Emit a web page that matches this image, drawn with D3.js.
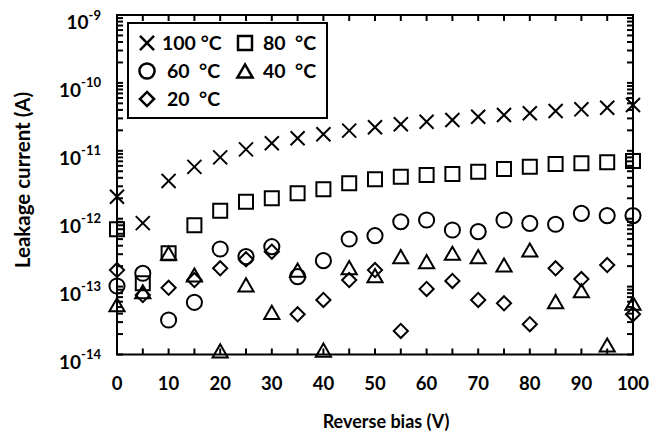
<!DOCTYPE html>
<html><head><meta charset="utf-8">
<script src="https://cdn.jsdelivr.net/npm/d3@7"></script>
<style>
body{margin:0;background:#fff}
text{font-family:Lato,"Open Sans",sans-serif;font-weight:bold;fill:#000}
</style>
</head><body>
<svg id="chart" width="654" height="437"></svg>
<script>
// ---------- data ----------
const bias = [0,5,10,15,20,25,30,35,40,45,50,55,60,65,70,75,80,85,90,95,100];
const t100 = [2.1e-12,8.6e-13,3.6e-12,5.8e-12,8.0e-12,1.05e-11,1.29e-11,1.53e-11,1.75e-11,1.98e-11,2.22e-11,2.46e-11,2.68e-11,2.84e-11,3.18e-11,3.37e-11,3.57e-11,3.86e-11,4.08e-11,4.31e-11,4.73e-11];
const t80  = [7.0e-13,1.12e-13,3.1e-13,8.0e-13,1.31e-12,1.78e-12,2.0e-12,2.37e-12,2.71e-12,3.32e-12,3.8e-12,4.16e-12,4.4e-12,4.55e-12,4.92e-12,5.4e-12,5.83e-12,6.39e-12,6.55e-12,6.77e-12,7.08e-12];
const t60  = [1.02e-13,1.57e-13,3.22e-14,5.87e-14,3.58e-13,2.76e-13,3.87e-13,1.4e-13,2.41e-13,5.02e-13,5.62e-13,9.03e-13,9.57e-13,6.82e-13,6.44e-13,9.57e-13,8.55e-13,8.27e-13,1.2e-12,1.11e-12,1.11e-12];
const t40  = [5.4e-14,8.4e-14,3.1e-13,1.48e-13,1.13e-14,1.06e-13,4.18e-14,1.75e-13,1.16e-14,1.9e-13,1.45e-13,2.76e-13,2.33e-13,3.1e-13,2.76e-13,2.08e-13,3.46e-13,6.0e-14,8.7e-14,1.38e-14,5.68e-14];
const t20  = [1.75e-13,7.5e-14,9.6e-14,1.25e-13,1.86e-13,2.52e-13,3.27e-13,3.91e-14,6.35e-14,1.25e-13,1.75e-13,2.22e-14,9.22e-14,1.21e-13,6.35e-14,5.68e-14,2.79e-14,1.86e-13,1.29e-13,2.08e-13,3.91e-14];
const seriesNames = ["100 °C","80  °C","60  °C","40  °C","20  °C"];
const xTickLabels = [0,10,20,30,40,50,60,70,80,90,100];
const yDecades = [-14,-13,-12,-11,-10,-9];
const xTitle = "Reverse bias (V)";
const yTitle = "Leakage current (A)";

// ---------- layout ----------
const svg = d3.select("#chart");
const L = 117, R = 633, T = 15, B = 354.5;
const x = d3.scaleLinear().domain([0,100]).range([L,R]);
const y = d3.scaleLog().domain([1e-14,1e-9]).range([B,T]);

const symbols = [
  {type:d3.symbolTimes, size:130, dy:0},
  {type:d3.symbolSquare2, size:250, dy:0},
  {type:d3.symbolCircle, size:180, dy:0},
  {type:d3.symbolTriangle2, size:165, dy:2.2},
  {type:d3.symbolDiamond2, size:128, dy:0}
];
const allSeries = [t100,t80,t60,t40,t20];

// ---------- axes (box with inward ticks) ----------
const g = svg.append("g");
const minorTicks = [];
for (let d=-14; d<-9; d++) for (let m=1; m<10; m++) minorTicks.push(m*Math.pow(10,d));
minorTicks.push(1e-9);
const xTicks = d3.range(0,101,5);

const tickLen = 6;
[[L,1],[R,-1]].forEach(([px,dir])=>{
  g.selectAll(null).data(minorTicks).join("line")
    .attr("x1",px).attr("x2",px+dir*tickLen)
    .attr("y1",d=>y(d)).attr("y2",d=>y(d))
    .attr("stroke","#000").attr("stroke-width",2);
});
[[B,-1],[T,1]].forEach(([py,dir])=>{
  g.selectAll(null).data(xTicks).join("line")
    .attr("x1",d=>x(d)).attr("x2",d=>x(d))
    .attr("y1",py).attr("y2",py+dir*tickLen)
    .attr("stroke","#000").attr("stroke-width",2);
});
g.append("rect").attr("x",L).attr("y",T).attr("width",R-L).attr("height",B-T)
  .attr("fill","none").attr("stroke","#000").attr("stroke-width",2);

// x tick labels
g.selectAll(null).data(xTickLabels).join("text")
  .attr("x",d=>x(d)).attr("y",390).attr("text-anchor","middle")
  .attr("font-size",18.5).text(d=>d);

// y tick labels 10^n
const yl = g.selectAll(null).data(yDecades).join("text")
  .attr("x",101).attr("y",d=>y(Math.pow(10,d))+14).attr("text-anchor","end")
  .attr("font-size",19);
yl.append("tspan").text("10");
yl.append("tspan").attr("font-size",13).attr("dy",-9.5).text(d=>String(d));

// axis titles
svg.append("text").attr("x",(L+R)/2+11).attr("y",428).attr("text-anchor","middle")
  .attr("font-size",18).text(xTitle);
svg.append("text").attr("transform","translate(30,180) rotate(-90)")
  .attr("text-anchor","middle").attr("font-size",20.5).text(yTitle);

// ---------- markers ----------
allSeries.forEach((vals,i)=>{
  const s = symbols[i];
  const sym = d3.symbol().type(s.type).size(s.size);
  svg.append("g").selectAll("path").data(vals).join("path")
    .attr("d",sym)
    .attr("transform",(d,j)=>`translate(${x(bias[j])},${y(d)+s.dy})`)
    .attr("fill","none").attr("stroke","#000").attr("stroke-width",2);
});

// ---------- legend ----------
const lg = svg.append("g");
lg.append("rect").attr("x",128).attr("y",23).attr("width",199).attr("height",95)
  .attr("fill","#fff").attr("stroke","#000").attr("stroke-width",2);
const legPos = [[147,43,162],[245,43,263],[147,71,167],[245,71,263],[147,99,167]];
seriesNames.forEach((name,i)=>{
  const [lx,ly,tx] = legPos[i];
  const s = symbols[i];
  lg.append("path").attr("d",d3.symbol().type(s.type).size(s.size)())
    .attr("transform",`translate(${lx},${ly+s.dy})`)
    .attr("fill","none").attr("stroke","#000").attr("stroke-width",2.5);
  lg.append("text").attr("x",tx).attr("y",ly+7).attr("font-size",19.5)
    .attr("xml:space","preserve").style("white-space","pre").text(name);
});
</script>
</body></html>
